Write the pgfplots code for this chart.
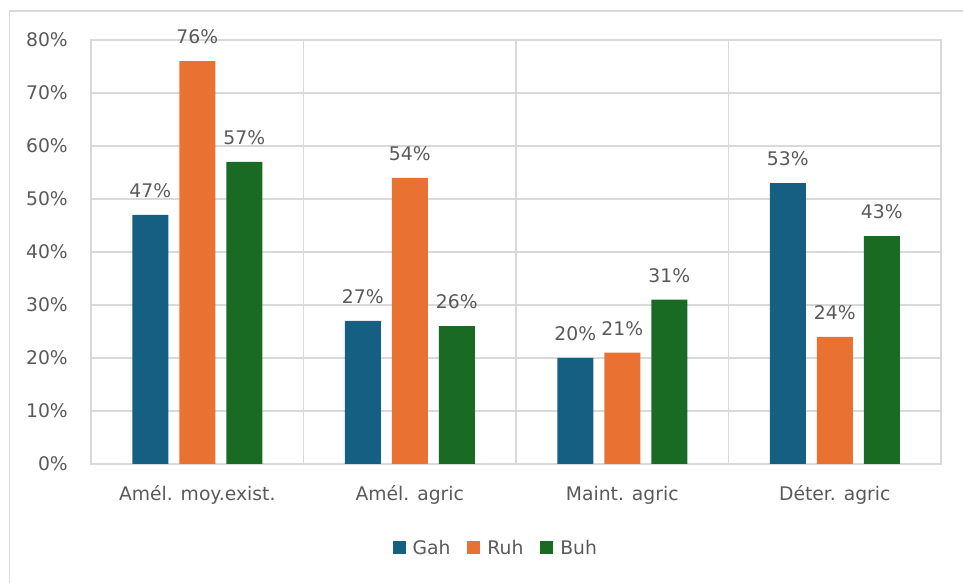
\documentclass[border=0pt]{standalone}
\usepackage{pgfplots}
\pgfplotsset{compat=1.18}
\usepackage{fontspec}
\setmainfont{DejaVu Sans}
\definecolor{gah}{HTML}{156082}
\definecolor{ruh}{HTML}{E97132}
\definecolor{buh}{HTML}{196B24}
\definecolor{txt}{HTML}{595959}
\definecolor{grd}{HTML}{D9D9D9}
\newcommand{\cf}{\fontsize{18.75}{21}\selectfont}
\begin{document}
\begin{tikzpicture}
\path[use as bounding box] (0,0) rectangle (963pt,583pt);
\draw[grd, line width=1.3pt] (9.5pt,-5pt) -- (9.5pt,572pt) -- (975pt,572pt);
\begin{axis}[
  at={(91pt,119pt)}, anchor=south west,
  scale only axis, width=850pt, height=424pt,
  ymin=0, ymax=80, xmin=-0.5, xmax=3.5,
  ytick={0,10,...,80},
  /pgf/number format/assume math mode=true,
  yticklabel={\pgfmathprintnumber{\tick}\%},
  xtick={0,1,2,3},
  xticklabels={Amél. moy.exist., Amél. agric, Maint. agric, Déter. agric},
  minor xtick={0.5,1.5,2.5},
  xminorgrids=true, ymajorgrids=true,
  grid style={grd, line width=1.3pt},
  minor grid style={grd, line width=1.3pt},
  axis line style={grd, line width=1.3pt},
  major tick length=0pt, minor tick length=0pt,
  ticklabel style={font=\cf, text=txt},
  yticklabel style={anchor=east, inner sep=0pt, xshift=-23pt},
  xticklabel style={anchor=base, inner sep=0pt, yshift=-36pt},
  ybar=11pt, bar width=36pt,
  nodes near coords={\pgfmathprintnumber{\pgfplotspointmeta}\%},
  every node near coord/.append style={anchor=base, yshift=17.5pt, inner sep=0pt, font=\cf, text=txt},
  legend columns=3,
  legend image code/.code={\draw[#1, draw=none] (0pt,-6.5pt) rectangle (13pt,6.5pt);},
  legend style={at={(0.475,-0.198)}, anchor=center, draw=none, fill=none, font=\cf, text=txt,
    nodes={inner sep=0pt},
    /tikz/every odd column/.append style={column sep=7pt},
    /tikz/every even column/.append style={column sep=17pt}},
]
\addplot[fill=gah, draw=none] coordinates {(0,47) (1,27) (2,20) (3,53)};
\addplot[fill=ruh, draw=none] coordinates {(0,76) (1,54) (2,21) (3,24)};
\addplot[fill=buh, draw=none] coordinates {(0,57) (1,26) (2,31) (3,43)};
\legend{Gah, Ruh, Buh}
\end{axis}
\end{tikzpicture}
\end{document}
